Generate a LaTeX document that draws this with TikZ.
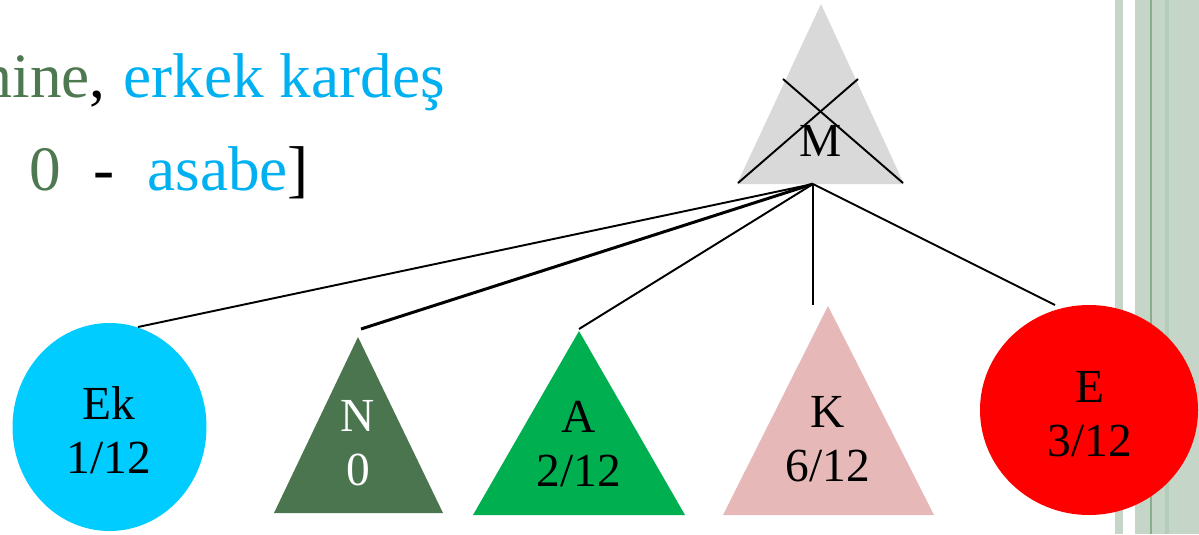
\documentclass[tikz,border=0pt]{standalone}
\usepackage{fontspec}
\setmainfont{Liberation Serif}
\usepackage{xcolor}
\usepackage{tikz}
\usetikzlibrary{calc}

\definecolor{tgreen}{RGB}{78,121,80}
\definecolor{tblue}{RGB}{0,176,240}
\definecolor{mgray}{RGB}{217,217,217}
\definecolor{ekblue}{RGB}{0,204,255}
\definecolor{ngreen}{RGB}{74,117,79}
\definecolor{agreen}{RGB}{0,176,80}
\definecolor{kpink}{RGB}{230,185,184}
\definecolor{ered}{RGB}{255,0,0}
\definecolor{stripe}{RGB}{197,214,200}
\definecolor{stripeband}{RGB}{180,205,182}
\definecolor{stripeline}{RGB}{135,175,138}

\begin{document}
\begin{tikzpicture}[x=0.02cm,y=-0.02cm,
  heading/.style={inner sep=0pt,font=\fontsize{36}{40}\selectfont},
  share/.style={inner sep=0pt,align=center,font=\fontsize{27}{31}\selectfont},
  link/.style={line width=1.1pt}]
\useasboundingbox (0,0) rectangle (1199,534);
\clip (0,0) rectangle (1199,534);

% Side stripes
\fill[stripe] (1115,0) rectangle (1123,534);
\fill[stripe] (1135,0) rectangle (1199,534);
\fill[stripeband] (1165,0) rectangle (1169,534);
\draw[stripeline,line width=0.6pt] (1151,0) -- (1151,534);

% Heading
\node[heading,anchor=base east] (mine) at (106,97) {\textcolor{tgreen}{mine},};
\node[heading,anchor=base west] (kardes) at (123,97) {\textcolor{tblue}{erkek kardeş}};
\node[heading,anchor=base west,text=tgreen] (zero) at (29,190) {0};
\node[heading,anchor=base west] (dash) at (93,190) {-};
\node[heading,anchor=base west] (asabe) at (147,190) {\textcolor{tblue}{asabe}]};

% Deceased M
\fill[mgray] (821,4) -- (904,184) -- (737,184) -- cycle;
\draw[link] (738,183) -- (858,79);
\draw[link] (783,79) -- (903,183);
\node[share] (m) at (821,141) {M};
\coordinate (mbot) at (813,184);

% Heirs
\fill[ekblue] (109.5,427) ellipse [x radius=97, y radius=104];
\node[share] (ek) at (109,430) {Ek\\1/12};
\coordinate (ektop) at (138,327);

\fill[ngreen] (358,337) -- (443,513) -- (274,513) -- cycle;
\node[share,text=white] (n) at (358,443) {N\\0};
\coordinate (ntop) at (361,329);

\fill[agreen] (579,331) -- (685,515) -- (473,515) -- cycle;
\node[share] (a) at (579,444) {A\\2/12};
\coordinate (atop) at (579,329);

\fill[kpink] (828,306) -- (934,515) -- (723,515) -- cycle;
\node[share] (k) at (828,439) {K\\6/12};
\coordinate (ktop) at (813,305);

\fill[ered] (1089,410) ellipse [x radius=109, y radius=105];
\node[share] (e) at (1090,414) {E\\3/12};
\coordinate (etop) at (1055,305);

% Links from M
\foreach \h in {ektop,atop,ktop,etop}
  \draw[link] (mbot) -- (\h);
\draw[line width=1.7pt] (mbot) -- (ntop);
\end{tikzpicture}
\end{document}
